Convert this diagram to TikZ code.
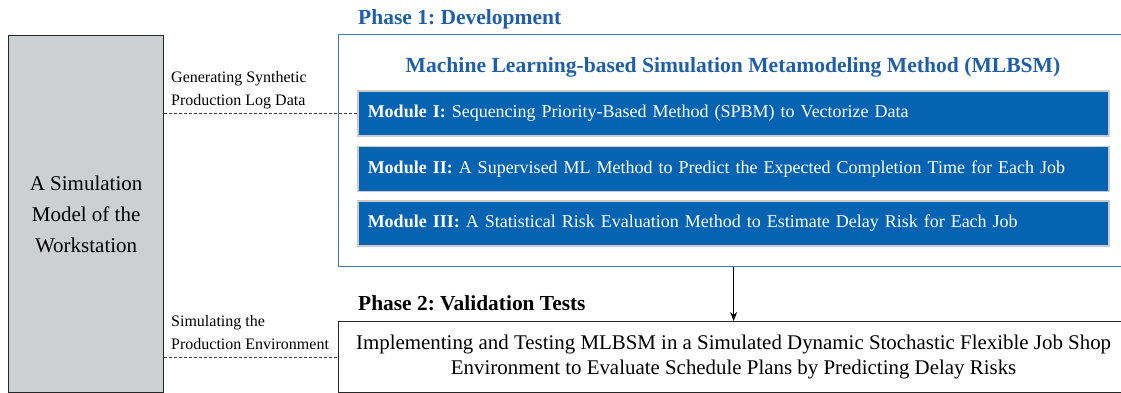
\documentclass[tikz,border=0pt]{standalone}
\usepackage{fontspec}
\setmainfont{Liberation Serif}
\usetikzlibrary{arrows.meta}
\frenchspacing
\definecolor{devblue}{RGB}{31,95,168}
\definecolor{frameblue}{RGB}{58,120,196}
\definecolor{modblue}{RGB}{5,99,178}
\definecolor{modedge}{RGB}{200,202,204}
\definecolor{simgray}{RGB}{205,208,208}
\tikzset{
  fs/.style={font=\fontsize{#1}{#1}\selectfont},
  modbox/.style={draw=modedge, line width=1.5pt, fill=modblue, text=white,
    anchor=west, minimum height=45pt, text width=731pt, inner xsep=10pt,
    align=left, fs=18},
  sidelabel/.style={anchor=south west, align=left, inner sep=0pt,
    font=\fontsize{16}{23}\selectfont},
  link/.style={densely dashed, line width=0.6pt, draw=black!75},
}
\begin{document}
\begin{tikzpicture}[x=1pt, y=-1pt]
\useasboundingbox (0,0) rectangle (1121,393);
\clip (0,0) rectangle (1121,393);

% simulation model of the workstation
\node[draw=black!85, line width=1.2pt, fill=simgray, anchor=north west,
  minimum width=155pt, minimum height=357pt, align=center,
  font=\fontsize{21}{31}\selectfont] (sim) at (8,35)
  {A Simulation\\Model of the\\Workstation};

% phase 1 frame
\node[anchor=west, text=devblue, inner sep=0pt, fs=21.5] (ph1) at (358,19)
  {\textbf{Phase 1: Development}};
\node[draw=frameblue, line width=1.2pt, anchor=north west,
  minimum width=790pt, minimum height=232pt] (dev) at (338,34) {};
\node[text=devblue, inner sep=0pt, fs=21.6] (title) at (733,67)
  {\textbf{Machine Learning-based Simulation Metamodeling Method (MLBSM)}};

\node[modbox] (m1) at (357,113.5)
  {\textbf{Module I:} Sequencing Priority-Based Method (SPBM) to Vectorize Data};
\node[modbox] (m2) at (357,169)
  {\textbf{Module II:} A Supervised ML Method to Predict the Expected Completion Time for Each Job};
\node[modbox] (m3) at (357,223.5)
  {\textbf{Module III:} A Statistical Risk Evaluation Method to Estimate Delay Risk for Each Job};

% phase 2
\node[anchor=west, inner sep=0pt, fs=21.4] (ph2) at (358,303)
  {\textbf{Phase 2: Validation Tests}};
\node[draw=black!85, line width=1.2pt, anchor=north west,
  minimum width=790pt, minimum height=71pt, align=center,
  font=\fontsize{20.9}{25}\selectfont] (val) at (338,321)
  {Implementing and Testing MLBSM in a Simulated Dynamic Stochastic Flexible Job Shop\\
   Environment to Evaluate Schedule Plans by Predicting Delay Risks};

\draw[-{Stealth[length=9pt,width=7pt]}, line width=1pt] (dev.south) -- (val.north);

% links from the simulation model
\node[sidelabel] (gen) at (171,109)
  {Generating Synthetic\\Production Log Data};
\node[sidelabel] (simenv) at (171,350)
  {Simulating the\\Production Environment};
\draw[link] (sim.east |- m1.west) -- (m1.west);
\draw[link] (sim.east |- val.west) -- (val.west);
\end{tikzpicture}
\end{document}
